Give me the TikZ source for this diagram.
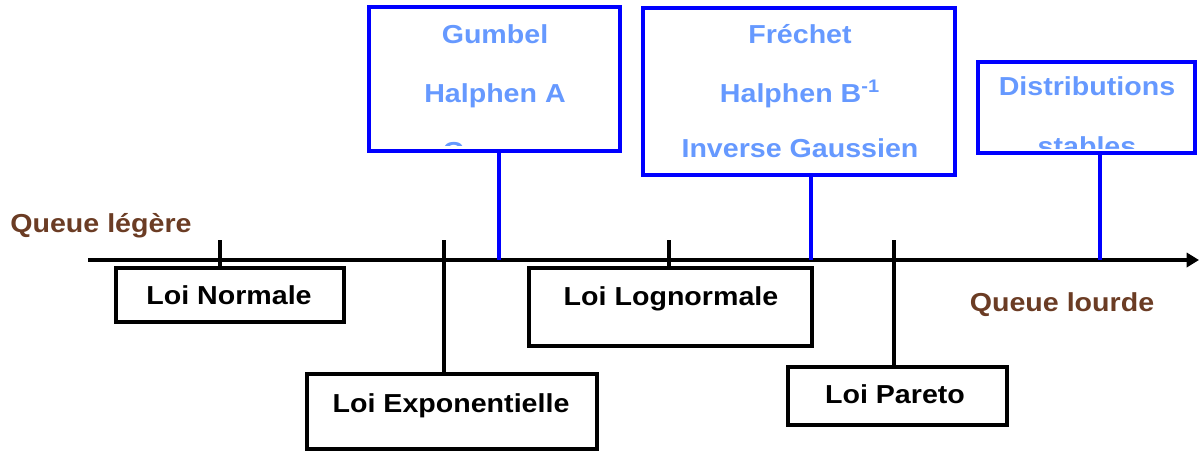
\documentclass[tikz,border=0pt]{standalone}
\usepackage{fontspec}
\setmainfont{Liberation Sans}[FakeStretch=1.1]
\usetikzlibrary{arrows.meta,fit}
\definecolor{bblue}{RGB}{0,0,255}
\definecolor{lblue}{RGB}{102,153,255}
\definecolor{brown}{RGB}{107,60,36}
\tikzset{
  px/.style={x=0.02cm,y=-0.02cm},
  bbox/.style={draw=black,line width=2.3pt,inner sep=0pt},
  blbox/.style={draw=bblue,line width=2.2pt,inner sep=0pt},
  btxt/.style={font=\fontsize{14.8}{17}\selectfont\bfseries,anchor=base,inner sep=0pt},
  ltxt/.style={btxt,text=lblue},
  qtxt/.style={btxt,text=brown},
  tick/.style={line width=2.3pt,black},
  conn/.style={line width=1.8pt,black},
  bconn/.style={line width=2.2pt,bblue},
}
\begin{document}
\begin{tikzpicture}[px]
\useasboundingbox (0,0) rectangle (1199,451);
% axis
\coordinate (axstart) at (88,260);
\coordinate (axend) at (1199,260);
\draw[line width=2.3pt,-{Triangle[length=7pt,width=8pt]}] (axstart) -- (axend);
% axis points
\coordinate (t1) at (220,260);
\coordinate (t2) at (444,260);
\coordinate (t3) at (669,260);
\coordinate (t4) at (894,260);
\coordinate (b1) at (499,260);
\coordinate (b2) at (811,260);
\coordinate (b3) at (1100,260);
\coordinate (t1u) at (220,240);
\coordinate (t2u) at (444,240);
\coordinate (t3u) at (669,240);
\coordinate (t4u) at (894,240);
% black boxes
\node[bbox,fit={(116,268) (344,322)}] (normale) {};
\node[btxt] (normaletxt) at (229,304) {Loi Normale};
\node[bbox,fit={(307,374) (597,449)}] (expo) {};
\node[btxt] (expotxt) at (451,412) {Loi Exponentielle};
\node[bbox,fit={(529,268) (812,346)}] (logn) {};
\node[btxt] (logntxt) at (671,305) {Loi Lognormale};
\node[bbox,fit={(788,367) (1007,425)}] (pareto) {};
\node[btxt] (paretotxt) at (895,403) {Loi Pareto};
% blue boxes with clipped text
\begin{scope}
\clip (369,7) rectangle (620,145);
\node[ltxt] (gumbel) at (495,43) {Gumbel};
\node[ltxt] (halphena) at (495,102) {Halphen A};
\node[ltxt] (gamma) at (495,160) {Gamma};
\end{scope}
\node[blbox,fit={(369,7) (620,151)}] (boxA) {};
\node[ltxt] (frechet) at (800,43) {Fréchet};
\node[ltxt] (halphenb) at (800,102) {Halphen B\textsuperscript{-1}};
\node[ltxt] (invg) at (800,157) {Inverse Gaussien};
\node[blbox,fit={(643,8) (955,175)}] (boxB) {};
\begin{scope}
\clip (978,62) rectangle (1195,148);
\node[ltxt] (distr) at (1087,95) {Distributions};
\node[ltxt] (stables) at (1087,155) {stables};
\end{scope}
\node[blbox,fit={(978,62) (1195,153)}] (boxC) {};
% labels
\node[qtxt,anchor=base west] (legere) at (10,232) {Queue légère};
\node[qtxt] (lourde) at (1062,311) {Queue lourde};
% ticks and connectors
\draw[tick] (t1u) -- (normale.north -| t1);
\draw[tick] (t2u) -- (t2);
\draw[conn] (t2) -- (expo.north -| t2);
\draw[tick] (t3u) -- (logn.north -| t3);
\draw[tick] (t4u) -- ([yshift=-0.16cm]t4);
\draw[conn] (t4) -- (pareto.north -| t4);
\draw[bconn] (boxA.south -| b1) -- (b1);
\draw[bconn] (boxB.south -| b2) -- (b2);
\draw[bconn] (boxC.south -| b3) -- (b3);
\end{tikzpicture}
\end{document}
